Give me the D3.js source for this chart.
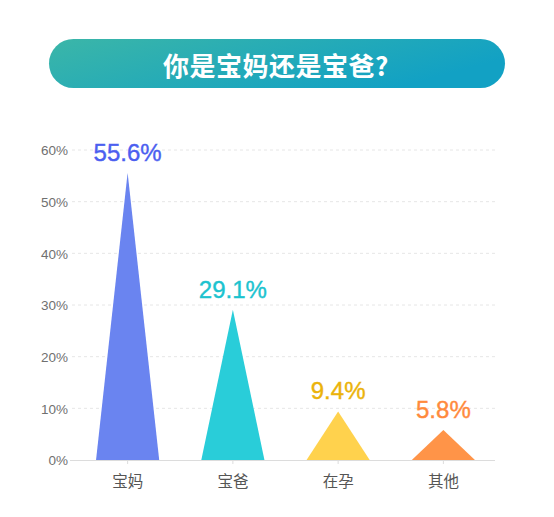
<!DOCTYPE html>
<html>
<head>
<meta charset="utf-8">
<script src="https://cdn.jsdelivr.net/npm/d3@7/dist/d3.min.js"></script>
<style>
  html, body { margin: 0; padding: 0; background: #fff; }
  svg { display: block; }
</style>
</head>
<body>
<svg id="chart" width="554" height="517"></svg>
<script>
const title = "你是宝妈还是宝爸?";
const categories = ["宝妈", "宝爸", "在孕", "其他"];
const values = [55.6, 29.1, 9.4, 5.8];
const yTicks = [0, 10, 20, 30, 40, 50, 60];
const barColors = ["#6a84f0", "#29cdd9", "#ffd24d", "#ff9448"];
const labelColors = ["#4c5ff0", "#1cc3cf", "#ebb30a", "#ff8a3d"];

const svg = d3.select("#chart");
const font = "'Liberation Sans', Arial, 'Noto Sans CJK SC', sans-serif";

// Title pill
const defs = svg.append("defs");
const grad = defs.append("linearGradient").attr("id", "tg")
  .attr("x1", "0%").attr("y1", "0%").attr("x2", "100%").attr("y2", "40%");
grad.append("stop").attr("offset", "0%").attr("stop-color", "#3bb6a8");
grad.append("stop").attr("offset", "100%").attr("stop-color", "#12a1c4");

svg.append("rect").attr("x", 49).attr("y", 39).attr("width", 456).attr("height", 49)
  .attr("rx", 24.5).attr("fill", "url(#tg)");
svg.append("text").attr("x", 276).attr("y", 64)
  .attr("text-anchor", "middle").attr("dominant-baseline", "central")
  .attr("font-family", "'Noto Sans CJK SC', sans-serif").attr("font-weight", 600)
  .attr("font-size", 26).attr("letter-spacing", 0.5).attr("fill", "#fff").text(title);

// Scales
const x = d3.scaleBand().domain(categories).range([75, 496]).padding(0);
const y = d3.scaleLinear().domain([0, 60]).range([460, 150]);

// Grid lines
svg.append("g").selectAll("line").data(yTicks.filter(d => d > 0)).join("line")
  .attr("x1", 72).attr("x2", 495)
  .attr("y1", d => y(d)).attr("y2", d => y(d))
  .attr("stroke", "#e6e6e6").attr("stroke-dasharray", "3,3").attr("stroke-width", 1);

// Y axis
const yAxis = d3.axisLeft(y).tickValues(yTicks).tickFormat(d => d + "%").tickSize(0).tickPadding(0);
const gy = svg.append("g").attr("transform", "translate(68,0)").call(yAxis);
gy.select(".domain").remove();
gy.selectAll("text").attr("font-family", font).attr("font-size", 13.5).attr("fill", "#707070")
  .attr("dy", "0.35em");

// Triangles
const triW = x.bandwidth() * 0.6;
svg.append("g").selectAll("path").data(values).join("path")
  .attr("d", (d, i) => {
    const cx = x(categories[i]) + x.bandwidth() / 2;
    return `M${cx - triW / 2},${y(0)} L${cx},${y(d)} L${cx + triW / 2},${y(0)} Z`;
  })
  .attr("fill", (d, i) => barColors[i]);

// X axis
const xAxis = d3.axisBottom(x).tickSize(4).tickPadding(12);
const gx = svg.append("g").attr("transform", `translate(0,${y(0)})`).call(xAxis);
gx.select(".domain").attr("d", "M70,0.5H495").attr("stroke", "#dcdcdc");
gx.selectAll(".tick line").attr("stroke", "#dcdcdc");
gx.selectAll("text").attr("font-family", "'Noto Sans CJK SC', sans-serif")
  .attr("font-size", 15.5).attr("fill", "#555");

// Value labels
svg.append("g").selectAll("text").data(values).join("text")
  .attr("x", (d, i) => x(categories[i]) + x.bandwidth() / 2)
  .attr("y", d => y(d) - 12)
  .attr("text-anchor", "middle")
  .attr("font-family", font).attr("font-size", 24)
  .attr("fill", (d, i) => labelColors[i])
  .attr("stroke", (d, i) => labelColors[i]).attr("stroke-width", 0.4)
  .text(d => d.toFixed(1) + "%");
</script>
</body>
</html>
